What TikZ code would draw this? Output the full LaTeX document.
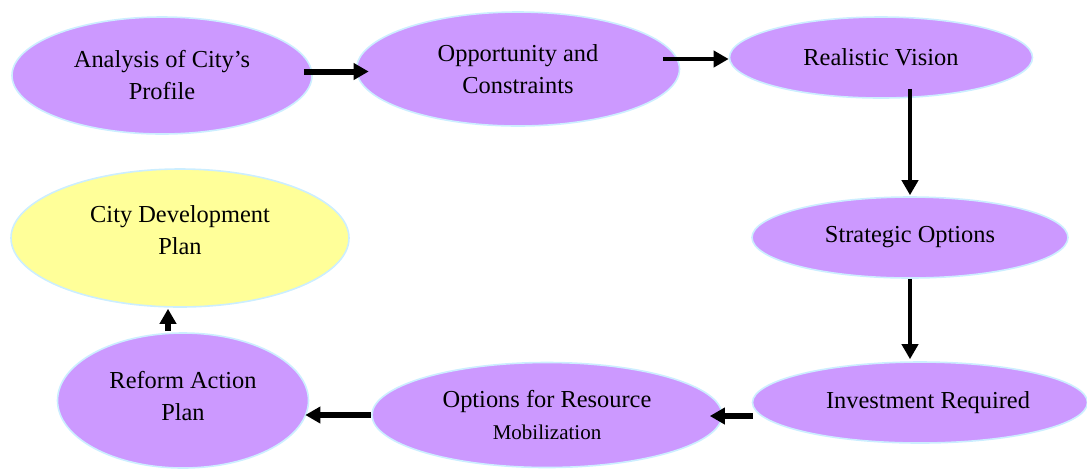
\documentclass[tikz,border=0pt]{standalone}
\usepackage{fontspec}
\setmainfont{Liberation Serif}
\usetikzlibrary{shapes.geometric, arrows.meta}
\definecolor{stagefill}{HTML}{CC99FF}
\definecolor{planfill}{HTML}{FFFF99}
\definecolor{rimblue}{HTML}{CCEEFF}

\begin{document}
\begin{tikzpicture}[
    x=0.5pt, y=-0.5pt,
    stage/.style={ellipse, draw=rimblue, line width=0.8pt, fill=stagefill, inner sep=0pt,
        align=center, font=\fontsize{12.2}{16}\selectfont},
    plan/.style={stage, fill=planfill},
    arrow/.style={-{Triangle[length=7.5pt, width=8pt]}, line width=3pt},
    thin arrow/.style={arrow, line width=2.2pt},
]
\useasboundingbox (0,0) rectangle (1087,468);

% Top row
\node[stage, minimum width=150pt, minimum height=58.5pt] (analysis) at (162,75.5) {Analysis of City's\\Profile};
\node[stage, minimum width=161.5pt, minimum height=57pt] (opport) at (518,69) {Opportunity and\\Constraints};
\node[stage, minimum width=151.5pt, minimum height=40.5pt] (vision) at (881,57.5) {Realistic Vision};

% Right column
\node[stage, minimum width=158pt, minimum height=40.5pt] (strategy) at (910,237.5) {Strategic Options};
\node[stage, minimum width=167.5pt, minimum height=40.5pt] (invest) at (920,402.5) {\hspace{8pt}Investment Required};

% Bottom row
\node[stage, minimum width=175pt, minimum height=52.5pt] (resource) at (547,415) {Options for Resource\\{\fontsize{10.5}{12}\selectfont Mobilization}};
\node[stage, minimum width=125.5pt, minimum height=67.5pt] (reform) at (183,400.5) {Reform Action\\Plan\\[-11.5pt]};

% Result
\node[plan, minimum width=169pt, minimum height=69pt] (cdp) at (180,238) {City Development\\Plan\\[-8.5pt]};

% Connectors
\draw[arrow] ([xshift=-4.5pt, yshift=2pt]analysis.east) -- ([xshift=6.5pt, yshift=-1.25pt]opport.west);
\draw[thin arrow] ([xshift=-8.5pt, yshift=5pt]opport.east) -- ([yshift=-0.75pt]vision.west);
\draw[thin arrow] ([xshift=14.5pt, yshift=5pt]vision.south) -- ([yshift=0.5pt]strategy.north);
\draw[thin arrow] (strategy.south) -- ([xshift=-5pt, yshift=1pt]invest.north);
\draw[arrow] ([xshift=0.5pt, yshift=-6.75pt]invest.west) -- ([xshift=-6.5pt, yshift=-0.5pt]resource.east);
\draw[arrow] (resource.west) -- ([xshift=-2pt, yshift=-7.25pt]reform.east);
\draw[arrow] ([xshift=-7.5pt, yshift=0.5pt]reform.north) -- ([xshift=-6pt, yshift=-0.5pt]cdp.south);

\end{tikzpicture}
\end{document}
